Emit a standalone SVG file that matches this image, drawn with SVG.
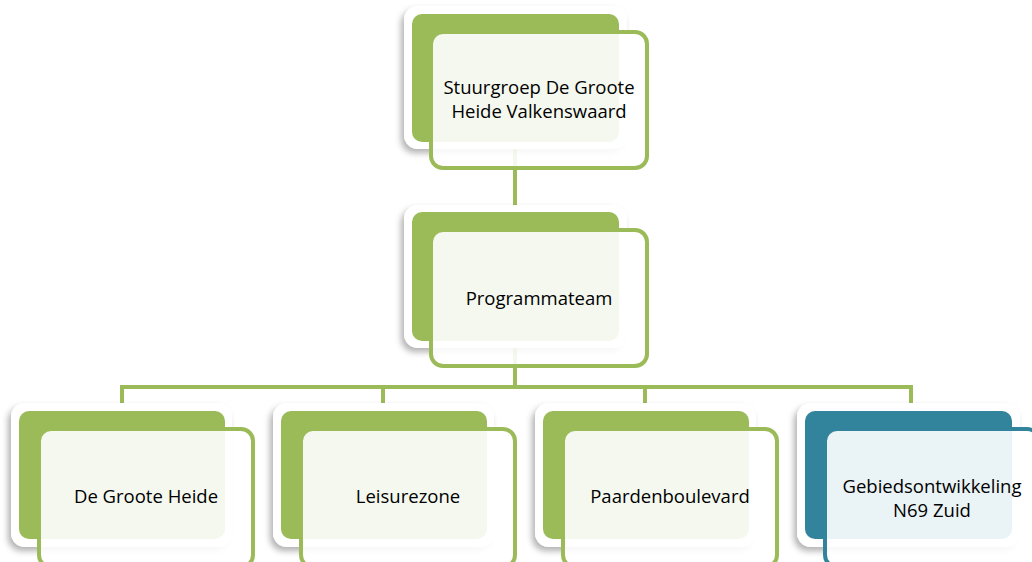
<svg xmlns="http://www.w3.org/2000/svg" width="1032" height="562" viewBox="0 0 1032 562">
<defs>
<filter id="sh" x="-20%" y="-20%" width="140%" height="140%">
<feDropShadow dx="-3" dy="4" stdDeviation="3" flood-color="#000" flood-opacity="0.3"/>
</filter>
<style>
.conn{stroke:#9bbb59;stroke-width:4;fill:none}
.bord{fill:#fff;filter:url(#sh)}
.back{fill:#9bbb59}
.front{fill:#fff;fill-opacity:0.9;stroke:#9bbb59;stroke-width:4}
.backT{fill:#31849b}
.frontT{fill:#fff;fill-opacity:0.9;stroke:#31849b;stroke-width:4}
text{font-family:"Open Sans","Liberation Sans",sans-serif;font-size:18.5px;fill:#000;text-anchor:middle}
</style>
</defs>
<rect width="1032" height="562" fill="#fff"/>
<g id="connectors">
<line class="conn" x1="515" y1="140" x2="515" y2="215"/>
<line class="conn" x1="515" y1="340" x2="515" y2="387"/>
<polyline class="conn" points="122,410 122,387 911,387 911,410"/>
<line class="conn" x1="383" y1="387" x2="383" y2="410"/>
<line class="conn" x1="645" y1="387" x2="645" y2="410"/>
</g>
<g id="n-stuurgroep">
<rect class="bord" x="404" y="6" width="223" height="143" rx="14"/>
<rect class="back" x="412" y="14" width="207" height="128" rx="10"/>
<rect class="front" x="431" y="32" width="216" height="136" rx="12"/>
<text x="539" y="94">Stuurgroep De Groote</text>
<text x="539" y="118">Heide Valkenswaard</text>
</g>
<g id="n-programmateam">
<rect class="bord" x="404" y="205" width="223" height="143" rx="14"/>
<rect class="back" x="412" y="212" width="207" height="129" rx="10"/>
<rect class="front" x="431" y="230" width="216" height="136" rx="12"/>
<text x="539" y="305">Programmateam</text>
</g>
<g id="n-degrooteheide">
<rect class="bord" x="11" y="403" width="221" height="144" rx="14"/>
<rect class="back" x="19" y="411" width="206" height="128" rx="10"/>
<rect class="front" x="39" y="429" width="214" height="138" rx="12"/>
<text x="146" y="503">De Groote Heide</text>
</g>
<g id="n-leisurezone">
<rect class="bord" x="273" y="403" width="221" height="144" rx="14"/>
<rect class="back" x="281" y="411" width="206" height="128" rx="10"/>
<rect class="front" x="301" y="429" width="214" height="138" rx="12"/>
<text x="408" y="503">Leisurezone</text>
</g>
<g id="n-paardenboulevard">
<rect class="bord" x="535" y="403" width="221" height="144" rx="14"/>
<rect class="back" x="543" y="411" width="206" height="128" rx="10"/>
<rect class="front" x="563" y="429" width="214" height="138" rx="12"/>
<text x="670" y="503">Paardenboulevard</text>
</g>
<g id="n-gebiedsontwikkeling">
<rect class="bord" x="797" y="403" width="223" height="144" rx="14"/>
<rect class="backT" x="805" y="411" width="207" height="128" rx="10"/>
<rect class="frontT" x="825" y="429" width="214" height="138" rx="12"/>
<text x="932" y="493">Gebiedsontwikkeling</text>
<text x="932" y="517">N69 Zuid</text>
</g>
</svg>
